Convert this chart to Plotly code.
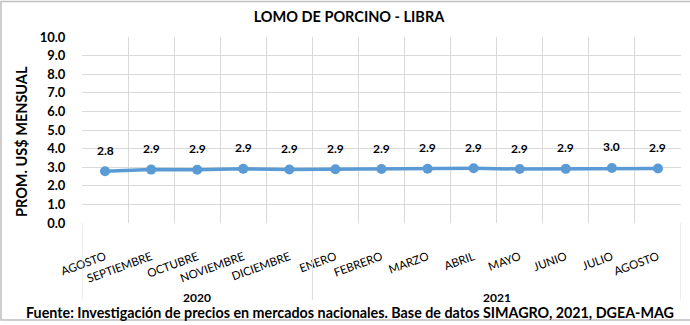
import plotly.graph_objects as go

# Monthly average price, pork loin per pound (US$)
months = ["AGOSTO", "SEPTIEMBRE", "OCTUBRE", "NOVIEMBRE", "DICIEMBRE",
          "ENERO", "FEBRERO", "MARZO", "ABRIL", "MAYO", "JUNIO", "JULIO", "AGOSTO"]
prices = [2.78, 2.87, 2.86, 2.91, 2.88, 2.89, 2.90, 2.92, 2.94, 2.90, 2.91, 2.96, 2.93]
years = ["2020", "2021"]
year_span = [(0, 4), (5, 12)]
y_ticks = [0, 1, 2, 3, 4, 5, 6, 7, 8, 9, 10]

FONT = "Lato, 'Open Sans', sans-serif"
LINE = "#5B9BD5"
GRID = "#D9D9D9"

W, H = 690, 325
L, R, T, B = 82, 9, 37, 102
pw = W - L - R
ph = H - T - B

def px_x(p):
    return (p - L) / pw

def px_y(p):
    return (H - B - p) / ph

x = list(range(len(months)))

fig = go.Figure()
fig.add_trace(go.Scatter(
    x=x, y=prices, mode="lines+markers",
    line=dict(color=LINE, width=3.5),
    marker=dict(color=LINE, size=10),
    hoverinfo="skip", showlegend=False,
))

annotations = []
for xi, v in zip(x, prices):
    annotations.append(dict(
        x=xi, y=v, xref="x", yref="y", text=f"<b>{v:.1f}</b>", showarrow=False,
        yshift=21, font=dict(family=FONT, size=12, color="#000000"),
    ))

for name, (a, b) in zip(years, year_span):
    annotations.append(dict(
        x=(a + b) / 2, y=px_y(297), xref="x", yref="paper", text=f"<b>{name}</b>",
        showarrow=False, yanchor="middle",
        font=dict(family=FONT, size=12, color="#000000"),
    ))

annotations.append(dict(
    x=px_x(21), y=px_y(142), xref="paper", yref="paper",
    text="<b>PROM. US$ MENSUAL</b>", textangle=-90, showarrow=False,
    xanchor="center", yanchor="middle",
    font=dict(family=FONT, size=14.5, color="#000000"),
))
annotations.append(dict(
    x=px_x(350), y=px_y(312), xref="paper", yref="paper",
    text="<b>Fuente: Investigación de precios en mercados nacionales. Base de datos SIMAGRO, 2021, DGEA-MAG</b>",
    showarrow=False, xanchor="center", yanchor="middle",
    font=dict(family=FONT, size=14.3, color="#000000"),
))

shapes = []
# group separators running down through the category labels
for bx in [-0.5, 4.5, 12.5]:
    shapes.append(dict(type="line", xref="x", yref="paper",
                       x0=bx, x1=bx, y0=0, y1=px_y(300),
                       line=dict(color=GRID, width=1)))
# outer frame
shapes.append(dict(type="rect", xref="paper", yref="paper",
                   x0=px_x(1), x1=px_x(730), y0=px_y(320), y1=px_y(1.5),
                   line=dict(color="#BFBFBF", width=1.5), layer="below"))

fig.update_layout(
    width=W, height=H,
    margin=dict(l=L, r=R, t=T, b=B, pad=0),
    paper_bgcolor="white", plot_bgcolor="white",
    title=dict(text="<b>LOMO DE PORCINO - LIBRA</b>", x=349 / W, y=1 - 17 / H,
               xanchor="center", yanchor="middle",
               font=dict(family=FONT, size=14.5, color="#000000")),
    xaxis=dict(
        range=[-0.5, 12.5], tickmode="array", tickvals=x, ticktext=months,
        tickangle=-20, showgrid=False, zeroline=False,
        ticks="outside", ticklen=22, tickcolor="rgba(0,0,0,0)",
        tickfont=dict(family=FONT, size=11.5, color="#000000"),
        minor=dict(tickmode="linear", tick0=-0.5, dtick=1, showgrid=True,
                   gridcolor=GRID, gridwidth=1),
        showline=False, fixedrange=True,
    ),
    yaxis=dict(
        range=[0, 10], tickmode="array", tickvals=y_ticks,
        ticktext=[f"<b>{v:.1f}</b>" for v in y_ticks],
        showgrid=True, gridcolor=GRID, gridwidth=1, zeroline=False,
        ticks="outside", ticklen=13, tickcolor="rgba(0,0,0,0)",
        tickfont=dict(family=FONT, size=13, color="#000000"),
        showline=False, fixedrange=True,
    ),
    annotations=annotations,
    shapes=shapes,
)

fig.write_html("out.html", config={"displayModeBar": False})
